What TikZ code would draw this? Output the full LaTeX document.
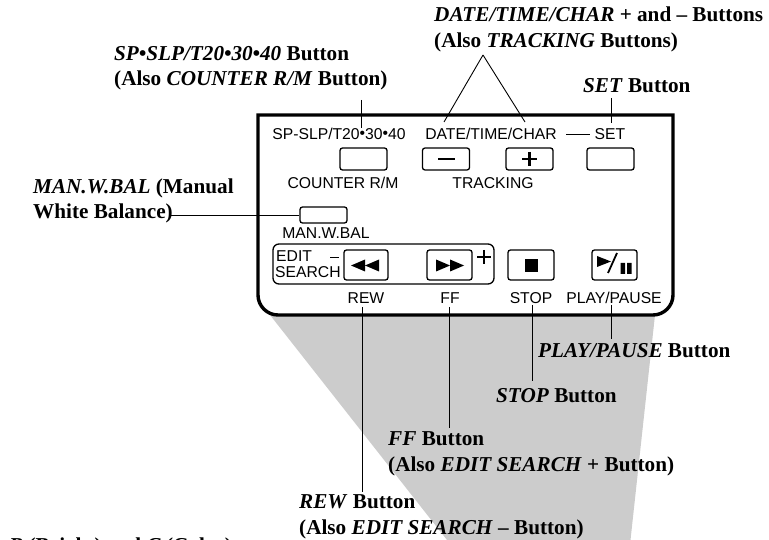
\documentclass[tikz,border=0pt]{standalone}
\usepackage{fontspec}
\setmainfont{Liberation Serif}
\newfontfamily\panelfont{Liberation Sans}
\usepackage{tikz}
\tikzset{
    button/.style={
           rectangle,
           rounded corners=2.5pt,
           draw=black, line width=1.3pt,
           inner sep=0pt,
           },
    panellabel/.style={
           font=\panelfont\fontsize{15.7}{16}\selectfont,
           inner sep=0pt,
           },
    note/.style={
           font=\bfseries\fontsize{21.2}{25.8}\selectfont,
           align=left, anchor=base west,
           inner sep=0pt,
           },
    leader/.style={draw=black, line width=0.9pt},
}

\begin{document}
\begin{tikzpicture}[x=1pt,y=-1pt]
        \useasboundingbox (0,0) rectangle (769,540);
        \fill[black!20] (270,315) -- (655,315) -- (630.5,540) -- (447,540) -- cycle;
        % panel outline
        \draw[line width=3.4pt,fill=white] (258,115) -- (673,115) -- (673,295) .. controls (673,306) and (664,315) .. (653,315) -- (278,315) .. controls (267,315) and (258,306) .. (258,295) -- cycle;

        \node[panellabel] (sp) at (339,134) {SP-SLP/T20\raisebox{.1ex}{•}30\raisebox{.1ex}{•}40};
        \node[panellabel] (date) at (491,134) {DATE/TIME/CHAR};
        \node[panellabel] (set) at (610,134) {SET};
        \node[panellabel] (counter) at (343,183) {COUNTER R/M};
        \node[panellabel] (tracking) at (493,183) {TRACKING};
        \node[panellabel] (manbal) at (326,233) {MAN.W.BAL};
        \node[panellabel] (rew) at (366,298) {REW};
        \node[panellabel] (ff) at (450,298) {FF};
        \node[panellabel] (stop) at (531,298) {STOP};
        \node[panellabel] (play) at (614,298) {PLAY/PAUSE};

        \node[button, minimum width=47pt, minimum height=22pt] (spB) at (363.5,159) {};
        \node[button, minimum width=47pt, minimum height=22pt] (minusB) at (446,159) {};
        \node[button, minimum width=47pt, minimum height=22pt] (plusB) at (529.5,159) {};
        \node[button, minimum width=47pt, minimum height=22pt] (setB) at (610.5,159) {};
        \node[button, minimum width=47pt, minimum height=16pt] (manB) at (323.5,215) {};
        \node[button, rounded corners=6pt, minimum width=221pt, minimum height=40pt] (editB) at (383.5,264) {};
        \node[button, minimum width=44pt, minimum height=30pt] (rewB) at (366,265) {};
        \node[button, minimum width=45pt, minimum height=30pt] (ffB) at (449.5,265) {};
        \node[button, minimum width=46pt, minimum height=30pt] (stopB) at (531,265) {};
        \node[button, minimum width=45pt, minimum height=30pt] (playB) at (614.5,265) {};

        \node[panellabel, anchor=west] (edit) at (276,256) {EDIT};
        \node[panellabel, anchor=west] (search) at (275,272) {SEARCH};

        % button marks
        \draw[line width=2pt] (438,158.7) -- (455,158.7);
        \draw[line width=2.4pt] (522,159) -- (537,159) (529.5,152) -- (529.5,166);
        \draw[line width=2.2pt] (477,257) -- (491,257) (484,250) -- (484,264);
        \draw[line width=0.9pt] (330,257.7) -- (339,257.7);
        \fill (351,265.5) -- (365,259.5) -- (365,271.5) -- cycle (365,265.5) -- (379,259.5) -- (379,271.5) -- cycle;
        \fill (436,259.5) -- (450,265.5) -- (436,271.5) -- cycle (450,259.5) -- (464,265.5) -- (450,271.5) -- cycle;
        \fill (525,259) rectangle (538,272);
        \fill (597,256) -- (611,261.5) -- (597,267) -- cycle (620.5,263) rectangle (625,274) (627,263) rectangle (631.5,274);
        \draw[line width=1.8pt] (617,253) -- (608,273);

        \node[note] (dateN) at (434,47.8) {\textit{DATE/TIME/CHAR} + and – Buttons\\(Also \textit{TRACKING} Buttons)};
        \node[note] (setN) at (583,93) {\textit{SET} Button};
        \node[note] (spN) at (114,86) {\textit{SP•SLP/T20•30•40} Button\\(Also \textit{COUNTER R/M} Button)};
        \node[note] (manN) at (33,219) {\textit{MAN.W.BAL} (Manual\\White Balance)};
        \node[note] (playN) at (538,357) {\textit{PLAY/PAUSE} Button};
        \node[note] (stopN) at (496,402) {\textit{STOP} Button};
        \node[note] (ffN) at (388,471) {\textit{FF} Button\\(Also \textit{EDIT SEARCH} + Button)};
        \node[note] (rewN) at (299,534) {\textit{REW} Button\\(Also \textit{EDIT SEARCH} – Button)};
        \node[note] (brightN) at (9,552) {\textit{B} (Bright) and \textit{C} (Color)};

        \coordinate (spTop) at (361,100);
        \coordinate (spEnd) at (361,128);
        \coordinate (apex) at (483,55);
        \coordinate (dateL) at (444,122);
        \coordinate (dateR) at (525,122);
        \coordinate (setTop) at (611,98);
        \coordinate (setEnd) at (611,123);
        \coordinate (dashL) at (566,134);
        \coordinate (dashR) at (590,134);
        \coordinate (manEnd) at (170,215);
        \coordinate (rewTop) at (362,307);
        \coordinate (rewEnd) at (362,492);
        \coordinate (ffTop) at (449,307);
        \coordinate (ffEnd) at (449,428);
        \coordinate (stopTop) at (532,305);
        \coordinate (stopEnd) at (532,381);
        \coordinate (playTop) at (611,305);
        \coordinate (playEnd) at (611,339);

        \path[leader] (spTop) edge (spEnd)
        (apex) edge (dateL)
        (apex) edge (dateR)
        (setTop) edge (setEnd)
        (dashL) edge (dashR)
        (manEnd) edge (manB.west)
        (rewTop) edge (rewEnd)
        (ffTop) edge (ffEnd)
        (stopTop) edge (stopEnd)
        (playTop) edge (playEnd)
        ;
    \end{tikzpicture}
\end{document}
